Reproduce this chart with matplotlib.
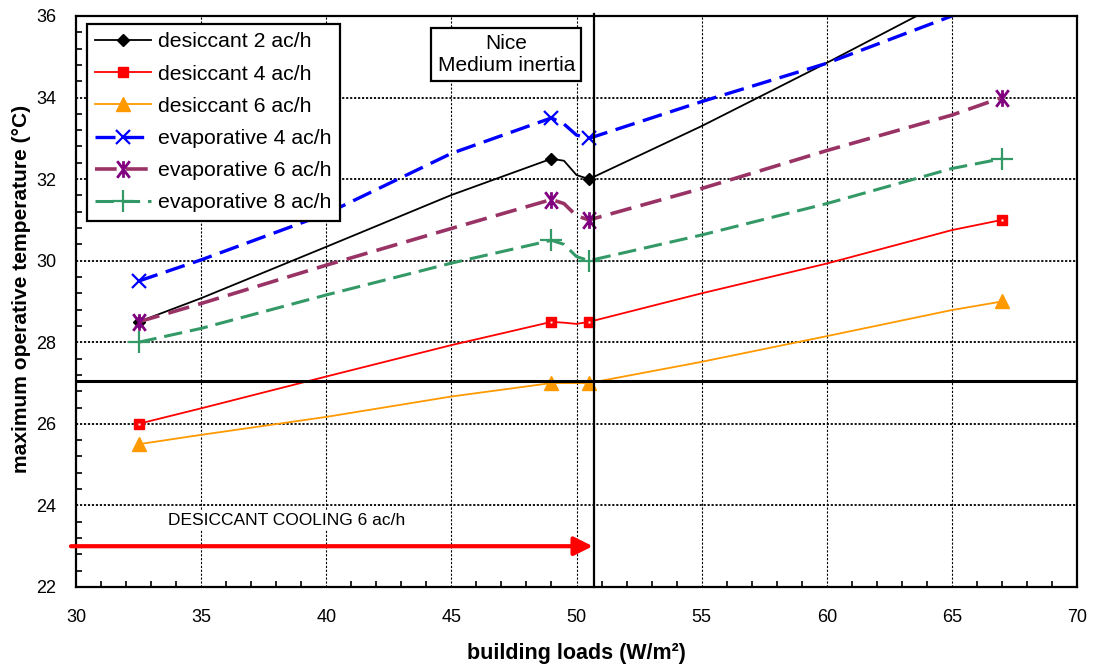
## maximum operative temperature vs building loads - Nice, medium inertia

import matplotlib
matplotlib.use('Agg')
import matplotlib.pyplot as plt
import numpy as np
from matplotlib.path import Path
from matplotlib.ticker import MultipleLocator

plt.rcParams['font.family'] = ['Liberation Sans', 'DejaVu Sans']

# building loads (W/m2) - markers sit at 32.5, 49, 50.5 and 67
loads = [32.5, 35, 40, 45, 49, 49.5, 50, 50.5, 55, 60, 65, 67]
mark_idx = [0, 4, 7, 11]

des_2ach = [28.5, 29.08, 30.34, 31.61, 32.5, 32.45, 32.1, 32.0, 33.3, 34.85, 36.45, 37.1]
des_4ach = [26.0, 26.38, 27.16, 27.93, 28.5, 28.48, 28.45, 28.5, 29.2, 29.93, 30.75, 31.0]
des_6ach = [25.5, 25.73, 26.17, 26.67, 27.0, 27.0, 27.0, 27.0, 27.52, 28.15, 28.79, 29.0]
eva_4ach = [29.5, 30.02, 31.15, 32.63, 33.5, 33.35, 33.08, 33.0, 33.9, 34.84, 36.0, 36.4]
eva_6ach = [28.5, 28.95, 29.89, 30.79, 31.5, 31.4, 31.1, 31.0, 31.77, 32.7, 33.57, 34.0]
eva_8ach = [28.0, 28.34, 29.16, 29.94, 30.5, 30.4, 30.1, 30.0, 30.63, 31.4, 32.26, 32.5]

u_labels = ['desiccant 2 ac/h', 'desiccant 4 ac/h', 'desiccant 6 ac/h',
            'evaporative 4 ac/h', 'evaporative 6 ac/h', 'evaporative 8 ac/h']

comfort_limit = 27.05     # horizontal reference line
load_limit    = 50.7      # vertical reference line

# asterisk marker: vertical bar plus an X
ast = Path([(0, -1), (0, 1), (-0.75, -1), (0.75, 1), (-0.75, 1), (0.75, -1)],
           [Path.MOVETO, Path.LINETO, Path.MOVETO, Path.LINETO, Path.MOVETO, Path.LINETO])

fig = plt.figure(figsize=(10.93, 6.65), dpi=100)
ax = fig.add_axes([0.0695, 0.1173, 0.9159, 0.8587])

ax.plot(loads, des_2ach, color='black', lw=1.3, marker='D', ms=6, markevery=mark_idx,
        label=u_labels[0])
ax.plot(loads, des_4ach, color='#ff0000', lw=1.3, marker='s', ms=7, mfc='#ff0000', mec='#ff0000',
        markevery=mark_idx, label=u_labels[1])
ax.plot(loads, des_4ach, color='none', marker='s', ms=1.8, mfc='white', mec='none',
        markevery=mark_idx)
ax.plot(loads, des_6ach, color='#ff9900', lw=1.3, marker='^', ms=10, markevery=mark_idx,
        label=u_labels[2])
ax.plot(loads, eva_4ach, color='#0000ff', lw=2.4, dashes=(6, 2.6), marker='x', ms=10, mew=1.6,
        markevery=mark_idx, label=u_labels[3])
ax.plot(loads, eva_6ach, color='#993366', lw=2.6, dashes=(6, 2.6), marker=ast, ms=12, mew=2,
        mec='#800080', markevery=mark_idx, label=u_labels[4])
ax.plot(loads, eva_8ach, color='#339966', lw=2.2, dashes=(6, 2.6), marker='+', ms=16, mew=1.6,
        markevery=mark_idx, label=u_labels[5])

ax.axhline(comfort_limit, color='black', lw=2.2, zorder=3)
ax.plot([load_limit, load_limit], [22, 36.05], color='black', lw=1.6, clip_on=False, zorder=3)

# arrow for desiccant cooling 6 ac/h
ax.annotate('', xy=(50.65, 23), xytext=(29.8, 23), annotation_clip=False,
            arrowprops=dict(arrowstyle='-|>', color='#ff0000', lw=3, mutation_scale=28,
                            shrinkA=0, shrinkB=0))
ax.text(38.4, 23.64, 'DESICCANT COOLING 6 ac/h', ha='center', va='center', fontsize=12.5,
        bbox=dict(boxstyle='square,pad=0.15', fc='white', ec='none'))

ax.text(47.2, 35.05, 'Nice\nMedium inertia', ha='center', va='center', fontsize=15,
        linespacing=1.2,
        bbox=dict(boxstyle='square,pad=0.3', fc='white', ec='black', lw=1.6))

ax.set_xlim(30, 70)
ax.set_ylim(22, 36)
ax.xaxis.set_major_locator(MultipleLocator(5))
ax.xaxis.set_minor_locator(MultipleLocator(1))
ax.yaxis.set_major_locator(MultipleLocator(2))
ax.yaxis.set_minor_locator(MultipleLocator(0.4))

for xv in range(35, 70, 5):
    ax.axvline(xv, color='black', lw=0.8, ls=(0, (2, 1.5)), zorder=0)
for yv in range(24, 36, 2):
    ax.axhline(yv, color='black', lw=1.3, ls=(0, (1.2, 1)), zorder=0)

ax.tick_params(axis='both', which='major', direction='in', length=0, labelsize=13, pad=14)
ax.tick_params(axis='both', which='minor', direction='in', length=4, width=1.2)
ax.tick_params(axis='x', which='major', pad=16)
for sp in ax.spines.values():
    sp.set_linewidth(1.6)

ax.set_xlabel('building loads (W/m²)', fontsize=15.5, fontweight='bold', labelpad=12)
ax.set_ylabel('maximum operative temperature (°C)', fontsize=15.1, fontweight='bold')
ax.yaxis.set_label_coords(-0.045, 0.522)

leg = ax.legend(loc='upper left', bbox_to_anchor=(0.011, 0.986), borderaxespad=0,
                fontsize=15.3, fancybox=False, framealpha=1, edgecolor='black',
                handlelength=2.6, labelspacing=0.62, borderpad=0.4, handletextpad=0.35)
leg.get_frame().set_linewidth(1.6)

plt.savefig('out.png', dpi=100)
